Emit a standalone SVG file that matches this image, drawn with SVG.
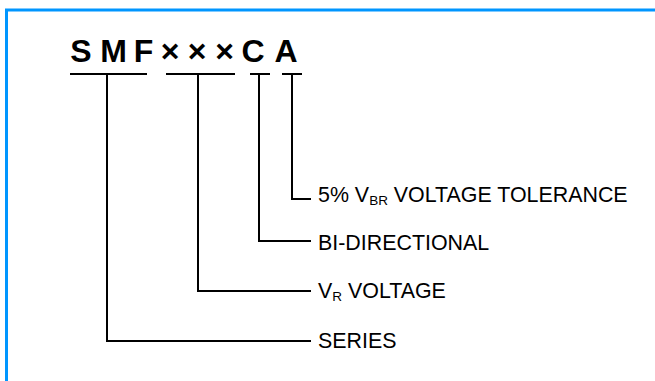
<svg xmlns="http://www.w3.org/2000/svg" width="655" height="381" viewBox="0 0 655 381">
<style>
.frame{fill:none;stroke:#0096FF;stroke-width:3}
.ln{fill:none;stroke:#000;stroke-width:2}
.code{font-family:"Liberation Sans",Arial,sans-serif;font-weight:bold;font-size:32px;fill:#000;text-anchor:middle}
.lbl{font-family:"Liberation Sans",Arial,sans-serif;font-size:21.4px;fill:#000}
.sub{font-size:13.5px}
</style>
<rect width="655" height="381" fill="#fff"/>
<path class="frame" d="M6.5,381 V10 H655"/>
<g id="code">
<text class="code" x="81" y="62">S</text>
<text class="code" x="113.5" y="62">M</text>
<text class="code" x="143.5" y="62">F</text>
<text class="code" x="170" y="62">×</text>
<text class="code" x="197" y="62">×</text>
<text class="code" x="224.5" y="62">×</text>
<text class="code" x="253" y="62">C</text>
<text class="code" x="286" y="62">A</text>
</g>
<g id="connectors">
<path class="ln" d="M70,74 H147 M166,74 H235 M250,74 H270 M282,74 H302"/>
<path class="ln" d="M107,74 V341 H311"/>
<path class="ln" d="M198,74 V291 H311"/>
<path class="ln" d="M259,74 V241 H311"/>
<path class="ln" d="M292,74 V199 H311"/>
</g>
<g id="label-tolerance"><text class="lbl" x="318" y="202">5% V<tspan class="sub" dy="3">BR</tspan><tspan dy="-3"> VOLTAGE TOLERANCE</tspan></text></g>
<g id="label-bidirectional"><text class="lbl" x="318" y="250">BI-DIRECTIONAL</text></g>
<g id="label-vr"><text class="lbl" x="318" y="298">V<tspan class="sub" dy="3">R</tspan><tspan dy="-3"> VOLTAGE</tspan></text></g>
<g id="label-series"><text class="lbl" x="318" y="348">SERIES</text></g>
</svg>
